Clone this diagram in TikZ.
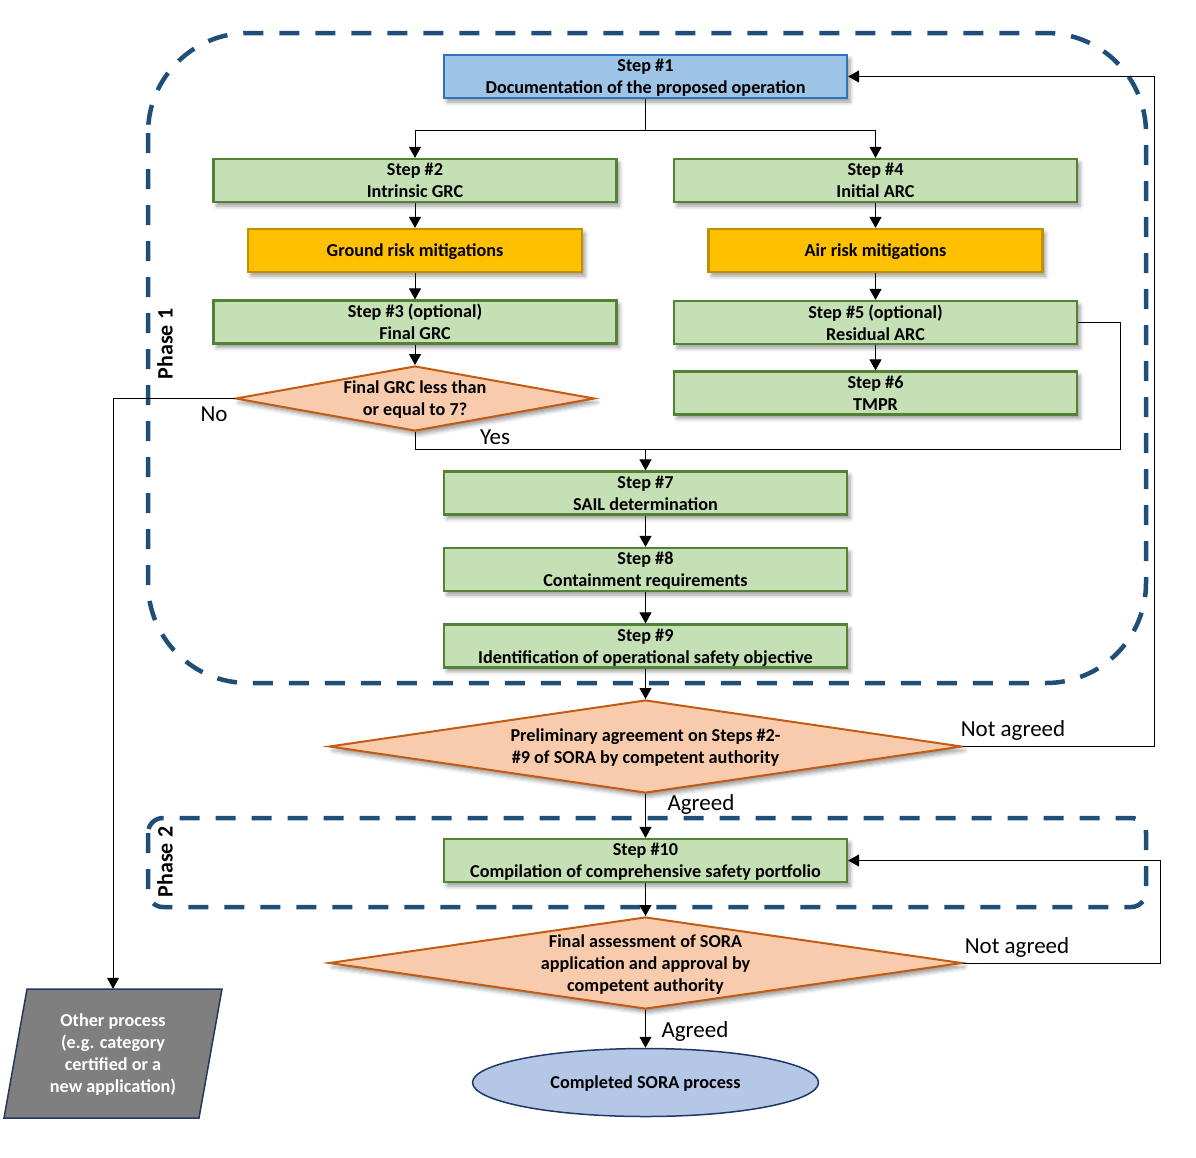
\documentclass[tikz,border=0pt]{standalone}
\usepackage{fontspec}
\setmainfont{Carlito}
\usetikzlibrary{arrows.meta,shapes.geometric,shadows.blur}
\definecolor{gfill}{HTML}{C5E0B4}
\definecolor{gdraw}{HTML}{548235}
\definecolor{bfill}{HTML}{9DC3E6}
\definecolor{bdraw}{HTML}{2E75B6}
\definecolor{ofill}{HTML}{FFC000}
\definecolor{odraw}{HTML}{BF9000}
\definecolor{dfill}{HTML}{F8CBAD}
\definecolor{ddraw}{HTML}{C55A11}
\definecolor{phasecol}{HTML}{1F4E79}
\definecolor{efill}{HTML}{B4C7E7}
\definecolor{edraw}{HTML}{203864}
\definecolor{pfill}{HTML}{7F7F7F}
\tikzset{
  shadowed/.style={blur shadow={shadow xshift=3pt,shadow yshift=-4pt,shadow blur radius=4pt,shadow opacity=40}},
  boxfont/.style={font=\bfseries\fontsize{18.2}{22}\selectfont,text depth=-2pt},
  stepbox/.style={boxfont,draw=gdraw,fill=gfill,line width=2.2pt,minimum width=403pt,minimum height=43pt,inner sep=0pt,align=center,shadowed},
  firstbox/.style={stepbox,draw=bdraw,fill=bfill},
  mitbox/.style={stepbox,draw=odraw,fill=ofill,minimum width=334pt},
  decision/.style={diamond,draw=ddraw,fill=dfill,line width=2pt,inner sep=0pt,shadowed},
  dtext/.style={boxfont,align=center,inner sep=0pt},
  phase/.style={draw=phasecol,line width=4.5pt,dash pattern=on 20pt off 16pt},
  phaselabel/.style={rotate=90,font=\bfseries\fontsize{22}{26}\selectfont},
  lab/.style={font=\fontsize{23}{27}\selectfont,inner sep=0pt},
  line/.style={line width=1pt,draw=black},
  conn/.style={line,-{Triangle[length=11pt,width=12pt]}},
}
\begin{document}
\begin{tikzpicture}[x=1pt,y=-1pt]
\useasboundingbox (0,0) rectangle (1196,1157);
% phase frames
\draw[phase,rounded corners=100pt] (148,33) rectangle (1146,683);
\draw[phase,rounded corners=15pt] (148,818) rectangle (1146,907);
\node[phaselabel] (p1) at (165,344) {Phase 1};
\node[phaselabel] (p2) at (165,862) {Phase 2};
% nodes
\node[firstbox] (s1) at (645.5,76.5) {Step \#1\\Documentation of the proposed operation};
\node[stepbox] (s2) at (415,180.5) {Step \#2\\Intrinsic GRC};
\node[stepbox] (s4) at (875.5,180.5) {Step \#4\\Initial ARC};
\node[mitbox] (g) at (415,250.5) {Ground risk mitigations};
\node[mitbox] (a) at (875.5,250.5) {Air risk mitigations};
\node[stepbox] (s3) at (415,322) {Step \#3 (optional)\\Final GRC};
\node[stepbox] (s5) at (875.5,322.5) {Step \#5 (optional)\\Residual ARC};
\node[stepbox] (s6) at (875.5,393) {Step \#6\\TMPR};
\node[decision,minimum width=359pt,minimum height=65pt] (d1) at (415,398.5) {};
\node[dtext] (d1t) at (d1.center) {Final GRC less than\\or equal to 7?};
\node[stepbox] (s7) at (645.5,493) {Step \#7\\SAIL determination};
\node[stepbox] (s8) at (645.5,569.5) {Step \#8\\Containment requirements};
\node[stepbox] (s9) at (645.5,646) {Step \#9\\Identification of operational safety objective};
\node[decision,minimum width=633pt,minimum height=93pt] (d2) at (645.5,746.5) {};
\node[dtext] (d2t) at (d2.center) {Preliminary agreement on Steps \#2-\\\#9 of SORA by competent authority};
\node[stepbox] (s10) at (645.5,860.5) {Step \#10\\Compilation of comprehensive safety portfolio};
\node[decision,minimum width=633pt,minimum height=92pt] (d3) at (645.5,963) {};
\node[dtext] (d3t) at (d3.center) {Final assessment of SORA\\application and approval by\\competent authority};
\node[ellipse,draw=edraw,fill=efill,line width=1.5pt,minimum width=346pt,minimum height=68pt,boxfont] (e) at (645.5,1082.5) {Completed SORA process};
\draw[draw=edraw,fill=pfill,line width=1.5pt] (27,989) -- (222,989) -- (199,1118) -- (4,1118) -- cycle;
\node[boxfont,text=white,align=center,minimum width=218pt,minimum height=129pt,inner sep=0pt] (o) at (113,1053.5) {Other process\\(e.g. category\\certified or a\\new application)};
% connectors
\coordinate (split) at (645.5,130);
\coordinate (m) at (645.5,449);
\draw[line] (s1.south) -- (split);
\draw[conn] (split) -| (s2.north);
\draw[conn] (split) -| (s4.north);
\draw[conn] (s2.south) -- (g.north);
\draw[conn] (g.south) -- (s3.north);
\draw[conn] (s3.south) -- (d1.north);
\draw[conn] (s4.south) -- (a.north);
\draw[conn] (a.south) -- (s5.north);
\draw[conn] (s5.south) -- (s6.north);
\draw[line] (d1.south) |- (m);
\draw[line] (s5.east) -- ++(42,0) |- (m);
\draw[conn] (m) -- (s7.north);
\draw[conn] (d1.west) -| (o.north);
\draw[conn] (s7.south) -- (s8.north);
\draw[conn] (s8.south) -- (s9.north);
\draw[conn] (s9.south) -- (d2.north);
\draw[conn] (d2.east) -- ++(191,0) |- (s1.east);
\draw[conn] (d2.south) -- (s10.north);
\draw[conn] (s10.south) -- (d3.north);
\draw[conn] (d3.east) -- ++(197,0) |- (s10.east);
\draw[conn] (d3.south) -- (e.north);
% labels
\node[lab] (lno) at (214,414) {No};
\node[lab] (lyes) at (495,437) {Yes};
\node[lab] (lna1) at (1013,730) {Not agreed};
\node[lab] (lag1) at (701,804) {Agreed};
\node[lab] (lna2) at (1017,947) {Not agreed};
\node[lab] (lag2) at (695,1031) {Agreed};
\end{tikzpicture}
\end{document}
